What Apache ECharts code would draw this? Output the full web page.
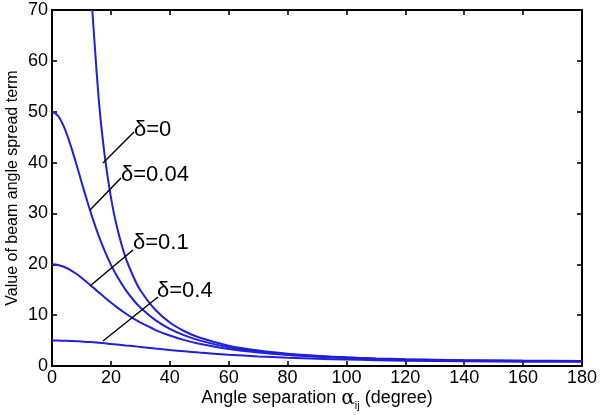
<!DOCTYPE html>
<html>
<head>
<meta charset="utf-8">
<script src="https://cdn.jsdelivr.net/npm/echarts@6/dist/echarts.min.js"></script>
<style>html,body{margin:0;padding:0;background:#fff}#c{width:600px;height:415px}</style>
</head>
<body>
<div id="c"></div>
<script>
// Angle separation (degree)
const angles = [0,2,4,6,8,10,12,14,16,18,20,22,25,28,30,35,40,45,50,60,70,80,90,100,110,120,140,160,180];
// delta = 0 curve leaves the top of the plot near 13.7 degrees
const anglesD0 = [13.7,14,16,18,20,22,25,28,30,35,40,45,50,60,70,80,90,100,110,120,140,160,180];
const valuesD0 = [70,67.3,51.6,40.9,33.2,27.5,21.3,17.1,14.9,11.1,8.55,6.83,5.6,4.0,3.04,2.42,2.0,1.7,1.49,1.33,1.13,1.03,1.0];
const valuesD004 = [50,49.25,47.13,43.98,40.22,36.24,32.34,28.69,25.4,22.49,19.94,17.73,14.96,12.73,11.5,9.06,7.3,6.01,5.04,3.7,2.87,2.31,1.92,1.65,1.45,1.3,1.11,1.01,0.98];
const valuesD01 = [20,19.88,19.52,18.96,18.23,17.36,16.41,15.42,14.42,13.43,12.48,11.57,10.33,9.21,8.55,7.12,5.99,5.09,4.37,3.33,2.64,2.16,1.82,1.57,1.39,1.25,1.07,0.98,0.95];
const valuesD04 = [5,4.99,4.97,4.93,4.88,4.82,4.74,4.65,4.56,4.45,4.34,4.23,4.05,3.87,3.75,3.44,3.15,2.89,2.64,2.22,1.89,1.63,1.43,1.27,1.15,1.05,0.92,0.85,0.83];
const seriesNames = ['δ=0','δ=0.04','δ=0.1','δ=0.4'];
const xTicks = {min:0, max:180, interval:20};
const yTicks = {min:0, max:70, interval:10};

const FONT = "'Liberation Sans', Arial, sans-serif";
const LINE = '#1f1fdc';
const zip = (xs, ys) => xs.map((x, i) => [x, ys[i]]);

const chart = echarts.init(document.getElementById('c'), null, {renderer: 'canvas'});

const axisBase = {
  type: 'value',
  axisLine: {show: true, onZero: false, lineStyle: {color: '#000', width: 2}},
  axisTick: {show: true, inside: true, length: 5, lineStyle: {color: '#000', width: 1.6}},
  splitLine: {show: false},
  nameMoveOverlap: false
};

chart.setOption({
  animation: false,
  backgroundColor: '#fff',
  grid: {left: 52, right: 18, top: 10, bottom: 49, containLabel: false, outerBoundsMode: 'none'},
  xAxis: [
    Object.assign({}, axisBase, {
      position: 'bottom', min: xTicks.min, max: xTicks.max, interval: xTicks.interval,
      axisLabel: {color: '#000', fontSize: 18, fontFamily: FONT, margin: 3},
      name: 'Angle separation {a|α}{s|ij} (degree)',
      nameLocation: 'middle', nameGap: 20,
      nameTextStyle: {
        color: '#000', fontSize: 18, fontFamily: FONT,
        rich: {
          a: {fontSize: 20, fontFamily: 'DejaVu Serif', color: '#000'},
          s: {fontSize: 11, fontFamily: FONT, color: '#000', padding: [14, 0, 0, 0]}
        }
      }
    }),
    Object.assign({}, axisBase, {
      position: 'top', min: xTicks.min, max: xTicks.max, interval: xTicks.interval,
      axisLabel: {show: false}
    })
  ],
  yAxis: [
    Object.assign({}, axisBase, {
      position: 'left', min: yTicks.min, max: yTicks.max, interval: yTicks.interval,
      axisLabel: {color: '#000', fontSize: 18, fontFamily: FONT, margin: 4},
      name: 'Value of beam angle spread term',
      nameLocation: 'middle', nameGap: 31,
      nameTextStyle: {color: '#000', fontSize: 16, fontFamily: FONT}
    }),
    Object.assign({}, axisBase, {
      position: 'right', min: yTicks.min, max: yTicks.max, interval: yTicks.interval,
      axisLabel: {show: false}
    })
  ],
  series: [
    {name: seriesNames[0], data: zip(anglesD0, valuesD0)},
    {name: seriesNames[1], data: zip(angles, valuesD004)},
    {name: seriesNames[2], data: zip(angles, valuesD01)},
    {name: seriesNames[3], data: zip(angles, valuesD04)}
  ].map(s => Object.assign({
    type: 'line', xAxisIndex: 0, yAxisIndex: 0, showSymbol: false, symbol: 'none',
    smooth: 0.3, clip: true,
    lineStyle: {color: LINE, width: 2}
  }, s))
});

// Annotation leader lines and labels (pixel layout)
const ann = [
  {x1: 103, y1: 163, x2: 134, y2: 132, tx: 134, ty: 130},
  {x1: 90, y1: 210, x2: 121, y2: 178, tx: 121, ty: 175},
  {x1: 90, y1: 286, x2: 133, y2: 250, tx: 133, ty: 243},
  {x1: 103, y1: 341, x2: 158, y2: 297, tx: 157, ty: 291}
];
const graphic = [];
ann.forEach((a, i) => {
  graphic.push({type: 'line', shape: {x1: a.x1, y1: a.y1, x2: a.x2, y2: a.y2},
    style: {stroke: '#000', lineWidth: 1.5}, z: 10});
  graphic.push({type: 'text', x: a.tx, y: a.ty,
    style: {text: seriesNames[i], fill: '#000', fontSize: 22, fontFamily: FONT,
      textAlign: 'left', textVerticalAlign: 'middle'}, z: 10});
});
chart.setOption({graphic: graphic});
</script>
</body>
</html>
